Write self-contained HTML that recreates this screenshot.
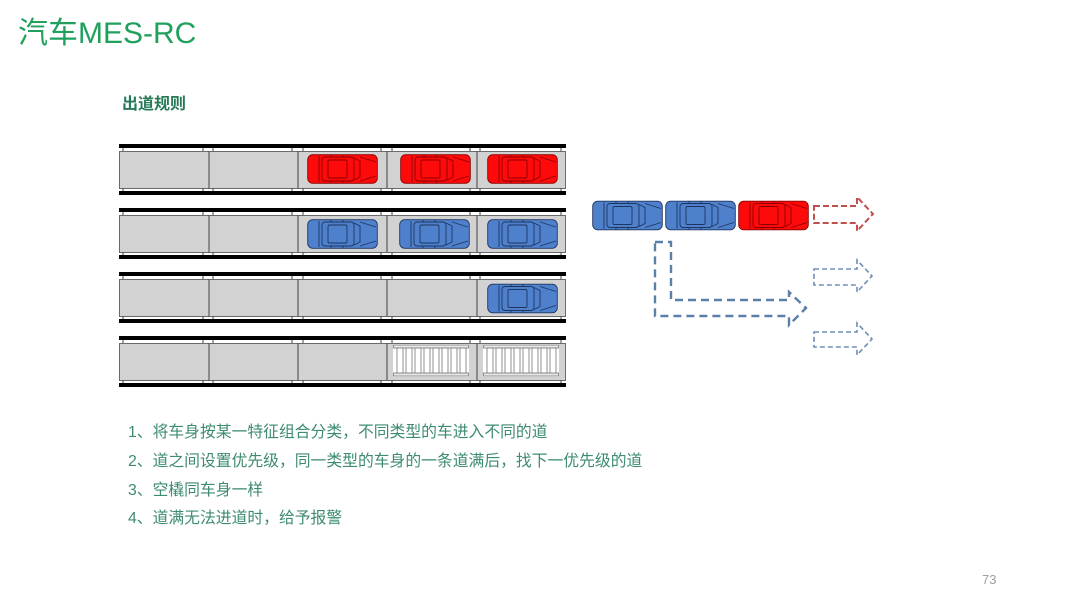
<!DOCTYPE html>
<html><head><meta charset="utf-8">
<style>
html,body{margin:0;padding:0;background:#fff;}
body{width:1080px;height:608px;position:relative;overflow:hidden;font-family:"Liberation Sans","Noto Sans CJK SC",sans-serif;}
.t{position:absolute;white-space:nowrap;}
</style></head><body>
<div class="t" style="left:18px;top:19px;font-size:30px;line-height:30px;color:#20a05c;">汽车MES-RC</div>
<div class="t" style="left:122px;top:97px;font-size:16px;line-height:16px;font-weight:bold;color:#267a55;">出道规则</div>
<div class="t" style="left:128px;top:424px;font-size:15.8px;line-height:18px;color:#3d8c6e;">1、将车身按某一特征组合分类，不同类型的车进入不同的道</div>
<div class="t" style="left:128px;top:453px;font-size:15.8px;line-height:18px;color:#3d8c6e;">2、道之间设置优先级，同一类型的车身的一条道满后，找下一优先级的道</div>
<div class="t" style="left:128px;top:482px;font-size:15.8px;line-height:18px;color:#3d8c6e;">3、空橇同车身一样</div>
<div class="t" style="left:128px;top:510px;font-size:15.8px;line-height:18px;color:#3d8c6e;">4、道满无法进道时，给予报警</div>
<div class="t" style="left:982px;top:573px;font-size:13px;line-height:14px;color:#a0a0a0;">73</div>

<svg width="1080" height="608" style="position:absolute;left:0;top:0;" xmlns="http://www.w3.org/2000/svg">
<defs>
<symbol id="car" viewBox="0 0 71 30">
  <rect x="0.7" y="0.7" width="69.6" height="28.6" rx="5"/>
  <g fill="none">
    <path d="M12,2 L12,28"/>
    <rect x="15" y="3" width="32" height="24" rx="3"/>
    <rect x="21" y="6" width="19" height="18" rx="1.5"/>
    <path d="M47,4 L53,7 L53,23 L47,26"/>
    <path d="M53,3 L69,8 M53,27 L69,22"/>
    <path d="M24,1 L24,3 M36,1 L36,3 M24,27 L24,29 M36,27 L36,29"/>
  </g>
</symbol>
<g id="lane">
  <rect x="119" y="0" width="447" height="4" fill="#000"/>
  <rect x="119" y="47" width="447" height="4" fill="#000"/>
  <rect x="119.5" y="7.5" width="446" height="37" fill="#d2d2d2" stroke="#6a6a6a" stroke-width="1"/>
  <path d="M209,7 V45 M298,7 V45 M387,7 V45 M477,7 V45" stroke="#5a5a5a" stroke-width="1.2"/>
  <path d="M123,4 V7 M203,4 V7 M213,4 V7 M292,4 V7 M303,4 V7 M381,4 V7 M392,4 V7 M470,4 V7 M480,4 V7 M561,4 V7 M123,44 V47 M203,44 V47 M213,44 V47 M292,44 V47 M303,44 V47 M381,44 V47 M392,44 V47 M470,44 V47 M480,44 V47 M561,44 V47" stroke="#444" stroke-width="1"/>
</g>
<g id="rack">
  <rect x="0" y="0" width="76" height="33" fill="#fff"/>
  <rect x="0.5" y="1" width="75" height="3" fill="#e8e8e8" stroke="#777" stroke-width="0.8"/>
  <rect x="0.5" y="29" width="75" height="3" fill="#e8e8e8" stroke="#777" stroke-width="0.8"/>
  <g fill="#fff" stroke="#777" stroke-width="0.8">
    <rect x="4" y="4" width="6" height="25"/>
    <rect x="13" y="4" width="6" height="25"/>
    <rect x="22" y="4" width="6" height="25"/>
    <rect x="31" y="4" width="6" height="25"/>
    <rect x="40" y="4" width="6" height="25"/>
    <rect x="49" y="4" width="6" height="25"/>
    <rect x="58" y="4" width="6" height="25"/>
    <rect x="67" y="4" width="6" height="25"/>
  </g>
</g>
</defs>

<use href="#lane" transform="translate(0,144)"/>
<use href="#lane" transform="translate(0,208)"/>
<use href="#lane" transform="translate(0,272)"/>
<use href="#lane" transform="translate(0,336)"/>

<use href="#car" x="307" y="154" width="71" height="30" fill="#ff0a0a" stroke="#8a0000" stroke-width="0.9"/>
<use href="#car" x="400" y="154" width="71" height="30" fill="#ff0a0a" stroke="#8a0000" stroke-width="0.9"/>
<use href="#car" x="487" y="154" width="71" height="30" fill="#ff0a0a" stroke="#8a0000" stroke-width="0.9"/>
<use href="#car" x="307" y="219" width="71" height="30" fill="#4f80cc" stroke="#1d3560" stroke-width="0.9"/>
<use href="#car" x="399" y="219" width="71" height="30" fill="#4f80cc" stroke="#1d3560" stroke-width="0.9"/>
<use href="#car" x="487" y="219" width="71" height="30" fill="#4f80cc" stroke="#1d3560" stroke-width="0.9"/>
<use href="#car" x="487" y="283" width="71" height="31" fill="#4f80cc" stroke="#1d3560" stroke-width="0.9"/>
<use href="#rack" transform="translate(393,344)"/>
<use href="#rack" transform="translate(483,344)"/>

<use href="#car" x="592" y="200" width="71" height="31" fill="#4f80cc" stroke="#1d3560" stroke-width="0.9"/>
<use href="#car" x="665" y="200" width="71" height="31" fill="#4f80cc" stroke="#1d3560" stroke-width="0.9"/>
<use href="#car" x="738" y="200" width="71" height="31" fill="#ff0a0a" stroke="#8a0000" stroke-width="0.9"/>

<path d="M814,206 L857,206 L857,197 L873,214 L857,231 L857,223 L814,223 Z" fill="none" stroke="#c0504d" stroke-width="2" stroke-dasharray="6,3"/>
<path d="M814,269 L857,269 L857,260 L872,276 L857,292 L857,285 L814,285 Z" fill="none" stroke="#6f8db5" stroke-width="1.6" stroke-dasharray="5,3"/>
<path d="M814,332 L857,332 L857,323 L872,339 L857,355 L857,347 L814,347 Z" fill="none" stroke="#6f8db5" stroke-width="1.6" stroke-dasharray="5,3"/>
<path d="M655,242 L671,242 L671,300 L789,300 L789,292 L806,308 L789,325 L789,316 L655,316 Z" fill="none" stroke="#5a80aa" stroke-width="2.4" stroke-dasharray="8,5"/>
</svg>
</body></html>
